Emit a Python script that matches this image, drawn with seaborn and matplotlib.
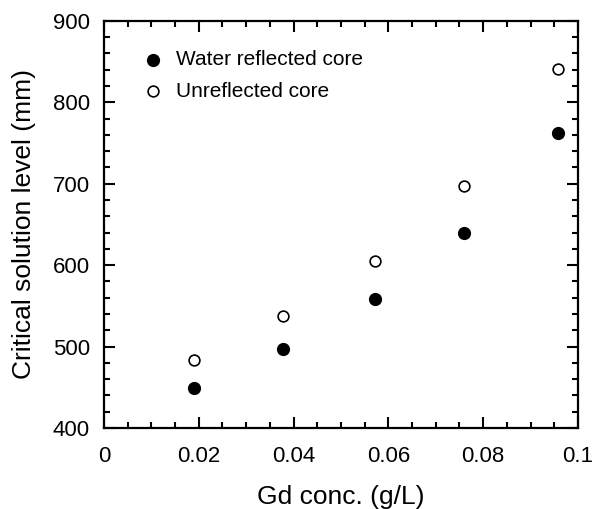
import numpy as np
import matplotlib
matplotlib.use("Agg")
import matplotlib.pyplot as plt
from matplotlib.ticker import MultipleLocator
import pandas as pd
import seaborn as sns

# data
gd_conc = [0.0190, 0.0377, 0.0572, 0.0759, 0.0957]
water_reflected = [449, 497, 558, 640, 762]
unreflected = [484, 538, 605, 697, 841]

sns.set_style("ticks")
plt.rcParams['font.family'] = ['Liberation Sans', 'DejaVu Sans']
plt.rcParams['text.color'] = 'black'
plt.rcParams['axes.labelcolor'] = 'black'

df = pd.DataFrame({'gd': gd_conc, 'water': water_reflected, 'unrefl': unreflected})

fig = plt.figure(figsize=(5.94, 5.09), dpi=100)
ax = fig.add_axes([0.175, 0.159, 0.798, 0.800])

sns.scatterplot(data=df, x='gd', y='water', ax=ax, s=72, color='black',
                edgecolor='black', linewidth=1.0, label='Water reflected core')
sns.scatterplot(data=df, x='gd', y='unrefl', ax=ax, s=60, facecolor='white',
                edgecolor='black', linewidth=1.2, label='Unreflected core')

ax.set_xlim(0, 0.1)
ax.set_ylim(400, 900)
ax.xaxis.set_major_locator(MultipleLocator(0.02))
ax.xaxis.set_minor_locator(MultipleLocator(0.005))
ax.yaxis.set_major_locator(MultipleLocator(100))
ax.yaxis.set_minor_locator(MultipleLocator(20))
ax.set_xticks([0, 0.02, 0.04, 0.06, 0.08, 0.1])
ax.set_xticklabels(['0', '0.02', '0.04', '0.06', '0.08', '0.1'])

ax.tick_params(which='both', direction='in', top=True, right=True,
               width=1.5, labelsize=16, colors='black')
ax.tick_params(which='major', length=8, pad=10)
ax.tick_params(axis='x', which='major', pad=13)
ax.tick_params(which='minor', length=4)
for sp in ax.spines.values():
    sp.set_linewidth(1.6)
    sp.set_color('black')

ax.set_xlabel('Gd conc. (g/L)', fontsize=19, labelpad=13)
ax.set_ylabel('Critical solution level (mm)', fontsize=19, labelpad=12)

leg = ax.legend(loc='upper left', frameon=False, fontsize=15, handlelength=1.0,
                handletextpad=0.6, borderaxespad=0, labelspacing=0.6,
                bbox_to_anchor=(0.064, 0.948))
for t in leg.get_texts():
    t.set_color('black')

fig.savefig('out.png', dpi=100)
